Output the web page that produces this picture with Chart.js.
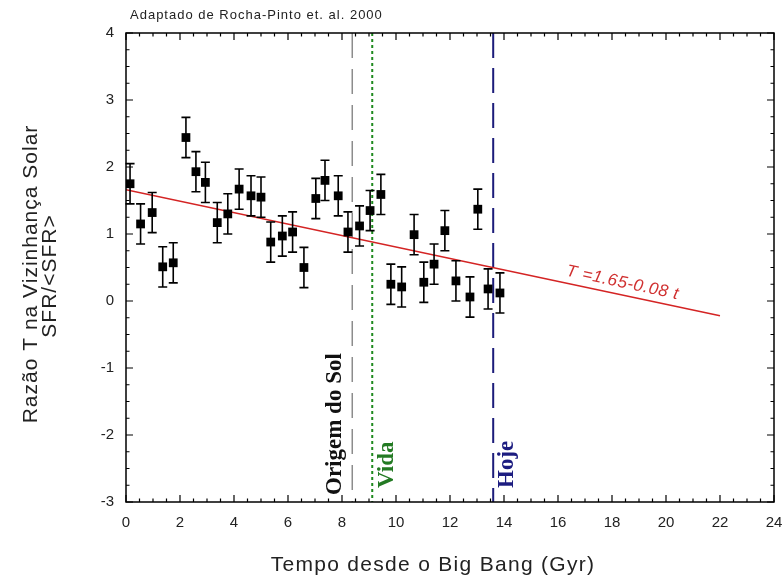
<!DOCTYPE html>
<html>
<head>
<meta charset="utf-8">
<script src="https://cdn.jsdelivr.net/npm/chart.js@4.4.1/dist/chart.umd.min.js"></script>
<style>
    html, body { margin: 0; padding: 0; background: #fff; }
    #wrap { width: 784px; height: 581px; }
</style>
</head>
<body>
<div id="wrap"><canvas id="chart" width="784" height="581"></canvas></div>
<script>
/* ============================================================
   DATA
============================================================ */

const ageGyr = [0.15, 0.54, 0.97, 1.36, 1.75, 2.22, 2.59, 2.94, 3.38, 3.77,
                4.19, 4.63, 5.00, 5.36, 5.79, 6.17, 6.59, 7.03, 7.37, 7.86,
                8.22, 8.65, 9.04, 9.44, 9.81, 10.21, 10.67, 11.03, 11.41, 11.81,
                12.22, 12.74, 13.03, 13.41, 13.85];
const ratioT = [1.75, 1.15, 1.32, 0.51, 0.57, 2.44, 1.93, 1.77, 1.17, 1.30,
                1.67, 1.57, 1.55, 0.88, 0.97, 1.03, 0.50, 1.53, 1.80, 1.57,
                1.03, 1.12, 1.35, 1.59, 0.25, 0.21, 0.99, 0.28, 0.55, 1.05,
                0.30, 0.06, 1.37, 0.18, 0.12];
const ratioErr = [0.30, 0.30, 0.30, 0.30, 0.30, 0.30, 0.30, 0.30, 0.30, 0.30,
                  0.30, 0.30, 0.30, 0.30, 0.30, 0.30, 0.30, 0.30, 0.30, 0.30,
                  0.30, 0.30, 0.30, 0.30, 0.30, 0.30, 0.30, 0.30, 0.30, 0.30,
                  0.30, 0.30, 0.30, 0.30, 0.30];

// fitted line T = 1.65 - 0.08 t, as drawn
const fitX = [0, 22];
const fitY = [1.66, -0.22];
const fitLabel = "T =1.65-0.08 t";

// vertical marker lines
const markerNames = ["Origem do Sol", "Vida", "Hoje"];
const markerAges = [8.38, 9.12, 13.6];

const xTickStep = 2;
const yTickStep = 1;
const xRange = [0, 24];
const yRange = [-3, 4];

const titleText = "Adaptado de Rocha-Pinto et. al. 2000";
const xTitle = "Tempo desde o Big Bang (Gyr)";
const yTitle = ["Razão T na Vizinhança Solar", "SFR/<SFR>"];


/* ============================================================
   STYLES
============================================================ */

const SANS = '"Liberation Sans", Arial, sans-serif';
const SERIF = '"Liberation Serif", "Times New Roman", serif';

const markerStyles = [
    { color: "#8c8c8c", dash: [25, 11], width: 1.5, textColor: "#111", side: -17, lift: 7 },
    { color: "#1f8a1f", dash: [3, 3],   width: 2,   textColor: "#237a23", side: 15, lift: 14 },
    { color: "#1c1c7a", dash: [25, 10], width: 2,   textColor: "#1c1c80", side: 14, lift: 14 }
];


/* ============================================================
   DATASETS
============================================================ */

const points = ageGyr.map((x, i) => ({ x: x, y: ratioT[i] }));
const fitPoints = fitX.map((x, i) => ({ x: x, y: fitY[i] }));

const datasets = [
    {
        label: "T",
        data: points,
        showLine: false,
        pointStyle: "rect",
        pointRadius: 6.2,
        pointBackgroundColor: "#000",
        pointBorderWidth: 0
    },
    {
        label: "fit",
        data: fitPoints,
        showLine: true,
        borderColor: "#d42424",
        borderWidth: 1.5,
        pointRadius: 0
    }
];

markerAges.forEach((age, i) => {
    datasets.push({
        label: markerNames[i],
        data: [{ x: age, y: yRange[1] }, { x: age, y: yRange[0] }],
        showLine: true,
        borderColor: markerStyles[i].color,
        borderWidth: markerStyles[i].width,
        borderDash: markerStyles[i].dash,
        pointRadius: 0
    });
});


/* ============================================================
   OVERLAY PLUGIN: frame, inward ticks, error bars, texts
============================================================ */

function rotatedText(ctx, text, x, y, angle, align, font, color, spacing) {
    ctx.save();
    ctx.translate(x, y);
    ctx.rotate(angle);
    ctx.font = font;
    ctx.fillStyle = color;
    ctx.textAlign = align;
    ctx.textBaseline = "middle";
    ctx.letterSpacing = spacing || "0px";
    ctx.fillText(text, 0, 0);
    ctx.restore();
}

const overlay = {
    id: "overlay",
    afterDatasetsDraw(chart) {
        const ctx = chart.ctx;
        const xs = chart.scales.x;
        const ys = chart.scales.y;
        const a = chart.chartArea;

        // error bars
        ctx.save();
        ctx.strokeStyle = "#000";
        ctx.lineWidth = 1.6;
        ageGyr.forEach((x, i) => {
            const px = xs.getPixelForValue(x);
            const top = ys.getPixelForValue(ratioT[i] + ratioErr[i]);
            const bot = ys.getPixelForValue(ratioT[i] - ratioErr[i]);
            ctx.beginPath();
            ctx.moveTo(px, top); ctx.lineTo(px, bot);
            ctx.moveTo(px - 4.5, top); ctx.lineTo(px + 4.5, top);
            ctx.moveTo(px - 4.5, bot); ctx.lineTo(px + 4.5, bot);
            ctx.stroke();
        });
        ctx.restore();

        // frame
        ctx.save();
        ctx.strokeStyle = "#000";
        ctx.lineWidth = 1.5;
        ctx.strokeRect(a.left, a.top, a.right - a.left, a.bottom - a.top);

        // inward ticks on all four sides
        ctx.lineWidth = 1.2;
        ctx.beginPath();
        for (let v = xRange[0]; v <= xRange[1] + 1e-9; v += 0.5) {
            const px = xs.getPixelForValue(v);
            const len = (Math.abs(v / xTickStep - Math.round(v / xTickStep)) < 1e-6) ? 7 : 3.5;
            ctx.moveTo(px, a.bottom); ctx.lineTo(px, a.bottom - len);
            ctx.moveTo(px, a.top); ctx.lineTo(px, a.top + len);
        }
        for (let v = yRange[0]; v <= yRange[1] + 1e-9; v += 0.25) {
            const py = ys.getPixelForValue(v);
            const len = (Math.abs(v / yTickStep - Math.round(v / yTickStep)) < 1e-6) ? 7 : 3.5;
            ctx.moveTo(a.left, py); ctx.lineTo(a.left + len, py);
            ctx.moveTo(a.right, py); ctx.lineTo(a.right - len, py);
        }
        ctx.stroke();
        ctx.restore();

        // vertical marker labels
        markerAges.forEach((age, i) => {
            const st = markerStyles[i];
            const px = xs.getPixelForValue(age) + st.side;
            rotatedText(ctx, markerNames[i], px, a.bottom - st.lift, -Math.PI / 2, "left",
                "bold 23px " + SERIF, st.textColor);
        });

        // fit equation along the line
        const x0 = xs.getPixelForValue(fitX[0]), y0 = ys.getPixelForValue(fitY[0]);
        const x1 = xs.getPixelForValue(fitX[1]), y1 = ys.getPixelForValue(fitY[1]);
        const ang = Math.atan2(y1 - y0, x1 - x0);
        const f = (18.3 - fitX[0]) / (fitX[1] - fitX[0]);
        const lx = x0 + f * (x1 - x0), ly = y0 + f * (y1 - y0);
        ctx.save();
        ctx.translate(lx, ly);
        ctx.rotate(ang);
        ctx.font = "italic 17px " + SANS;
        ctx.letterSpacing = "0.6px";
        ctx.fillStyle = "#d03030";
        ctx.textAlign = "center";
        ctx.textBaseline = "middle";
        ctx.fillText(fitLabel, 0, -12);
        ctx.restore();

        // titles
        rotatedText(ctx, titleText, 130, 15, 0, "left", "13px " + SANS, "#222", "1px");
        rotatedText(ctx, xTitle, 433, 565, 0, "center", "21px " + SANS, "#222", "1.3px");
        rotatedText(ctx, yTitle[0], 31, 274, -Math.PI / 2, "center", "21px " + SANS, "#222", "1px");
        rotatedText(ctx, yTitle[1], 50, 276, -Math.PI / 2, "center", "21px " + SANS, "#222", "1px");
    }
};


/* ============================================================
   CHART
============================================================ */

new Chart(document.getElementById("chart").getContext("2d"), {
    type: "scatter",
    data: { datasets: datasets },
    options: {
        responsive: false,
        animation: false,
        devicePixelRatio: 1,
        layout: { padding: { top: 33, right: 10, left: 0, bottom: 0 } },
        plugins: {
            legend: { display: false },
            tooltip: { enabled: false }
        },
        scales: {
            x: {
                type: "linear",
                min: xRange[0], max: xRange[1],
                grid: { display: false, drawTicks: false },
                border: { display: false },
                ticks: {
                    stepSize: xTickStep,
                    padding: 12,
                    color: "#222",
                    maxRotation: 0,
                    font: { family: SANS, size: 15 }
                },
                afterFit: s => {
                    s.height = 79;
                    s.paddingLeft = 0;
                    s.paddingRight = 0;
                }
            },
            y: {
                type: "linear",
                min: yRange[0], max: yRange[1],
                grid: { display: false, drawTicks: false },
                border: { display: false },
                ticks: {
                    stepSize: yTickStep,
                    padding: 12,
                    color: "#222",
                    font: { family: SANS, size: 15 }
                },
                afterFit: s => {
                    s.width = 126;
                    s.paddingTop = 0;
                    s.paddingBottom = 0;
                }
            }
        }
    },
    plugins: [overlay]
});
</script>
</body>
</html>
